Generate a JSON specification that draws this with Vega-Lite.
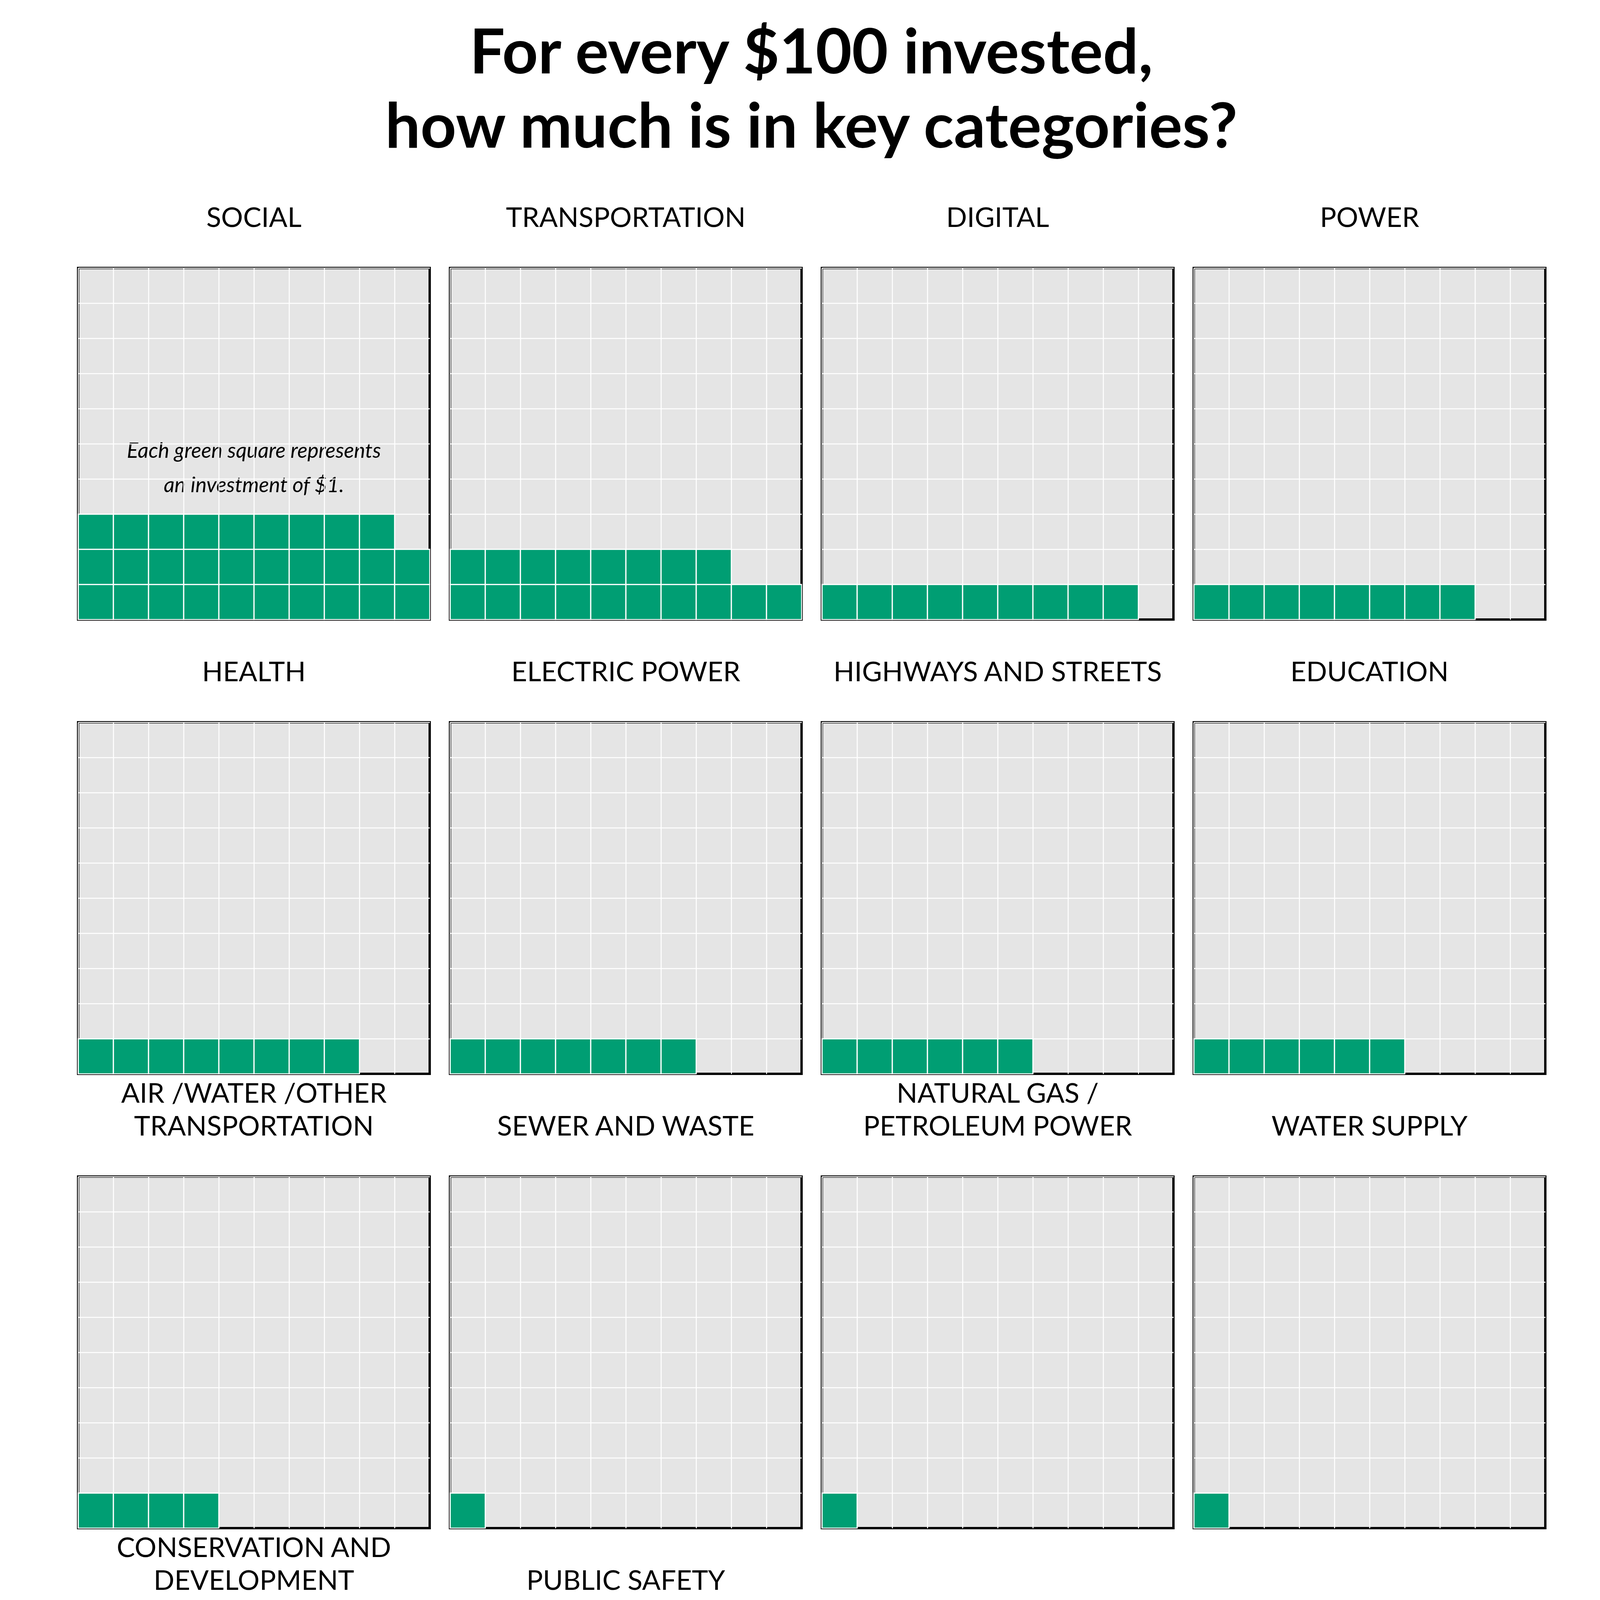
{
  "$schema": "https://vega.github.io/schema/vega-lite/v6.json",
  "background": "white",
  "padding": {"left": 195, "top": 60, "right": 100, "bottom": 40},
  "title": {
    "text": ["For every $100 invested,", "how much is in key categories?"],
    "font": "Lato",
    "fontSize": 160,
    "fontWeight": "bold",
    "color": "black",
    "lineHeight": 190,
    "anchor": "middle",
    "offset": 110
  },
  "vconcat": [
    {
      "title": {
        "text": ["Data from Bureau of Economic Analysis.", "Tidytuesday Week-33 2021 • @issa_madjid."],
        "orient": "bottom",
        "anchor": "end",
        "font": "Lato",
        "fontSize": 76,
        "fontWeight": "normal",
        "lineHeight": 88,
        "color": "black",
        "offset": 110
      },
      "data": {
        "values": [
          {"c":"SOCIAL","x":0,"y":0},{"c":"SOCIAL","x":1,"y":0},{"c":"SOCIAL","x":2,"y":0},{"c":"SOCIAL","x":3,"y":0},{"c":"SOCIAL","x":4,"y":0},{"c":"SOCIAL","x":5,"y":0},{"c":"SOCIAL","x":6,"y":0},{"c":"SOCIAL","x":7,"y":0},{"c":"SOCIAL","x":8,"y":0},{"c":"SOCIAL","x":9,"y":0},
          {"c":"SOCIAL","x":0,"y":1},{"c":"SOCIAL","x":1,"y":1},{"c":"SOCIAL","x":2,"y":1},{"c":"SOCIAL","x":3,"y":1},{"c":"SOCIAL","x":4,"y":1},{"c":"SOCIAL","x":5,"y":1},{"c":"SOCIAL","x":6,"y":1},{"c":"SOCIAL","x":7,"y":1},{"c":"SOCIAL","x":8,"y":1},{"c":"SOCIAL","x":9,"y":1},
          {"c":"SOCIAL","x":0,"y":2},{"c":"SOCIAL","x":1,"y":2},{"c":"SOCIAL","x":2,"y":2},{"c":"SOCIAL","x":3,"y":2},{"c":"SOCIAL","x":4,"y":2},{"c":"SOCIAL","x":5,"y":2},{"c":"SOCIAL","x":6,"y":2},{"c":"SOCIAL","x":7,"y":2},{"c":"SOCIAL","x":8,"y":2},
          {"c":"SOCIAL","x":4,"y":4,"note":"Each green square represents\nan investment of $1."},
          {"c":"TRANSPORTATION","x":0,"y":0},{"c":"TRANSPORTATION","x":1,"y":0},{"c":"TRANSPORTATION","x":2,"y":0},{"c":"TRANSPORTATION","x":3,"y":0},{"c":"TRANSPORTATION","x":4,"y":0},{"c":"TRANSPORTATION","x":5,"y":0},{"c":"TRANSPORTATION","x":6,"y":0},{"c":"TRANSPORTATION","x":7,"y":0},{"c":"TRANSPORTATION","x":8,"y":0},{"c":"TRANSPORTATION","x":9,"y":0},
          {"c":"TRANSPORTATION","x":0,"y":1},{"c":"TRANSPORTATION","x":1,"y":1},{"c":"TRANSPORTATION","x":2,"y":1},{"c":"TRANSPORTATION","x":3,"y":1},{"c":"TRANSPORTATION","x":4,"y":1},{"c":"TRANSPORTATION","x":5,"y":1},{"c":"TRANSPORTATION","x":6,"y":1},{"c":"TRANSPORTATION","x":7,"y":1},
          {"c":"DIGITAL","x":0,"y":0},{"c":"DIGITAL","x":1,"y":0},{"c":"DIGITAL","x":2,"y":0},{"c":"DIGITAL","x":3,"y":0},{"c":"DIGITAL","x":4,"y":0},{"c":"DIGITAL","x":5,"y":0},{"c":"DIGITAL","x":6,"y":0},{"c":"DIGITAL","x":7,"y":0},{"c":"DIGITAL","x":8,"y":0},
          {"c":"POWER","x":0,"y":0},{"c":"POWER","x":1,"y":0},{"c":"POWER","x":2,"y":0},{"c":"POWER","x":3,"y":0},{"c":"POWER","x":4,"y":0},{"c":"POWER","x":5,"y":0},{"c":"POWER","x":6,"y":0},{"c":"POWER","x":7,"y":0},
          {"c":"HEALTH","x":0,"y":0},{"c":"HEALTH","x":1,"y":0},{"c":"HEALTH","x":2,"y":0},{"c":"HEALTH","x":3,"y":0},{"c":"HEALTH","x":4,"y":0},{"c":"HEALTH","x":5,"y":0},{"c":"HEALTH","x":6,"y":0},{"c":"HEALTH","x":7,"y":0},
          {"c":"ELECTRIC POWER","x":0,"y":0},{"c":"ELECTRIC POWER","x":1,"y":0},{"c":"ELECTRIC POWER","x":2,"y":0},{"c":"ELECTRIC POWER","x":3,"y":0},{"c":"ELECTRIC POWER","x":4,"y":0},{"c":"ELECTRIC POWER","x":5,"y":0},{"c":"ELECTRIC POWER","x":6,"y":0},
          {"c":"HIGHWAYS AND STREETS","x":0,"y":0},{"c":"HIGHWAYS AND STREETS","x":1,"y":0},{"c":"HIGHWAYS AND STREETS","x":2,"y":0},{"c":"HIGHWAYS AND STREETS","x":3,"y":0},{"c":"HIGHWAYS AND STREETS","x":4,"y":0},{"c":"HIGHWAYS AND STREETS","x":5,"y":0},
          {"c":"EDUCATION","x":0,"y":0},{"c":"EDUCATION","x":1,"y":0},{"c":"EDUCATION","x":2,"y":0},{"c":"EDUCATION","x":3,"y":0},{"c":"EDUCATION","x":4,"y":0},{"c":"EDUCATION","x":5,"y":0},
          {"c":"AIR /WATER /OTHER|TRANSPORTATION","x":0,"y":0},{"c":"AIR /WATER /OTHER|TRANSPORTATION","x":1,"y":0},{"c":"AIR /WATER /OTHER|TRANSPORTATION","x":2,"y":0},{"c":"AIR /WATER /OTHER|TRANSPORTATION","x":3,"y":0},
          {"c":"SEWER AND WASTE","x":0,"y":0},
          {"c":"NATURAL GAS /|PETROLEUM POWER","x":0,"y":0},
          {"c":"WATER SUPPLY","x":0,"y":0},
          {"c":"CONSERVATION AND|DEVELOPMENT","x":0,"y":0},
          {"c":"PUBLIC SAFETY","x":0,"y":0}
        ]
      },
      "columns": 4,
      "spacing": {"row": 10, "column": 42},
      "facet": {
        "field": "c",
        "type": "nominal",
        "sort": ["SOCIAL","TRANSPORTATION","DIGITAL","POWER","HEALTH","ELECTRIC POWER","HIGHWAYS AND STREETS","EDUCATION","AIR /WATER /OTHER|TRANSPORTATION","SEWER AND WASTE","NATURAL GAS /|PETROLEUM POWER","WATER SUPPLY","CONSERVATION AND|DEVELOPMENT","PUBLIC SAFETY"],
        "header": {
          "title": null,
          "labelExpr": "split(datum.label, '|')",
          "labelFont": "Lato",
          "labelFontSize": 70,
          "labelLineHeight": 84,
          "labelColor": "black",
          "labelPadding": 20,
          "labelBaseline": "bottom"
        }
      },
      "spec": {
        "width": 900,
        "height": 900,
        "encoding": {
          "x": {
            "field": "x", "type": "ordinal", "title": null,
            "scale": {"domain": [0,1,2,3,4,5,6,7,8,9], "paddingInner": 0, "paddingOuter": 0},
            "axis": {"labels": false, "ticks": false, "domain": false, "grid": true, "bandPosition": 0, "gridColor": "white", "gridWidth": 2.5}
          },
          "y": {
            "field": "y", "type": "ordinal", "title": null,
            "scale": {"domain": [9,8,7,6,5,4,3,2,1,0], "paddingInner": 0, "paddingOuter": 0},
            "axis": {"labels": false, "ticks": false, "domain": false, "grid": true, "bandPosition": 0, "gridColor": "white", "gridWidth": 2.5}
          }
        },
        "layer": [
          {
            "transform": [{"filter": "!datum.note"}],
            "mark": {"type": "rect", "fill": "#009e73", "stroke": "white", "strokeWidth": 2.5}
          },
          {
            "transform": [{"filter": "datum.note"}],
            "mark": {"type": "text", "font": "Lato", "fontStyle": "italic", "fontSize": 54, "lineBreak": "\n", "lineHeight": 88, "align": "center", "dx": 45, "dy": -25, "fill": "black"},
            "encoding": {"text": {"field": "note"}}
          }
        ]
      }
    }
  ],
  "config": {
    "view": {"fill": "#e5e5e5", "stroke": "black", "strokeWidth": 6}
  }
}
